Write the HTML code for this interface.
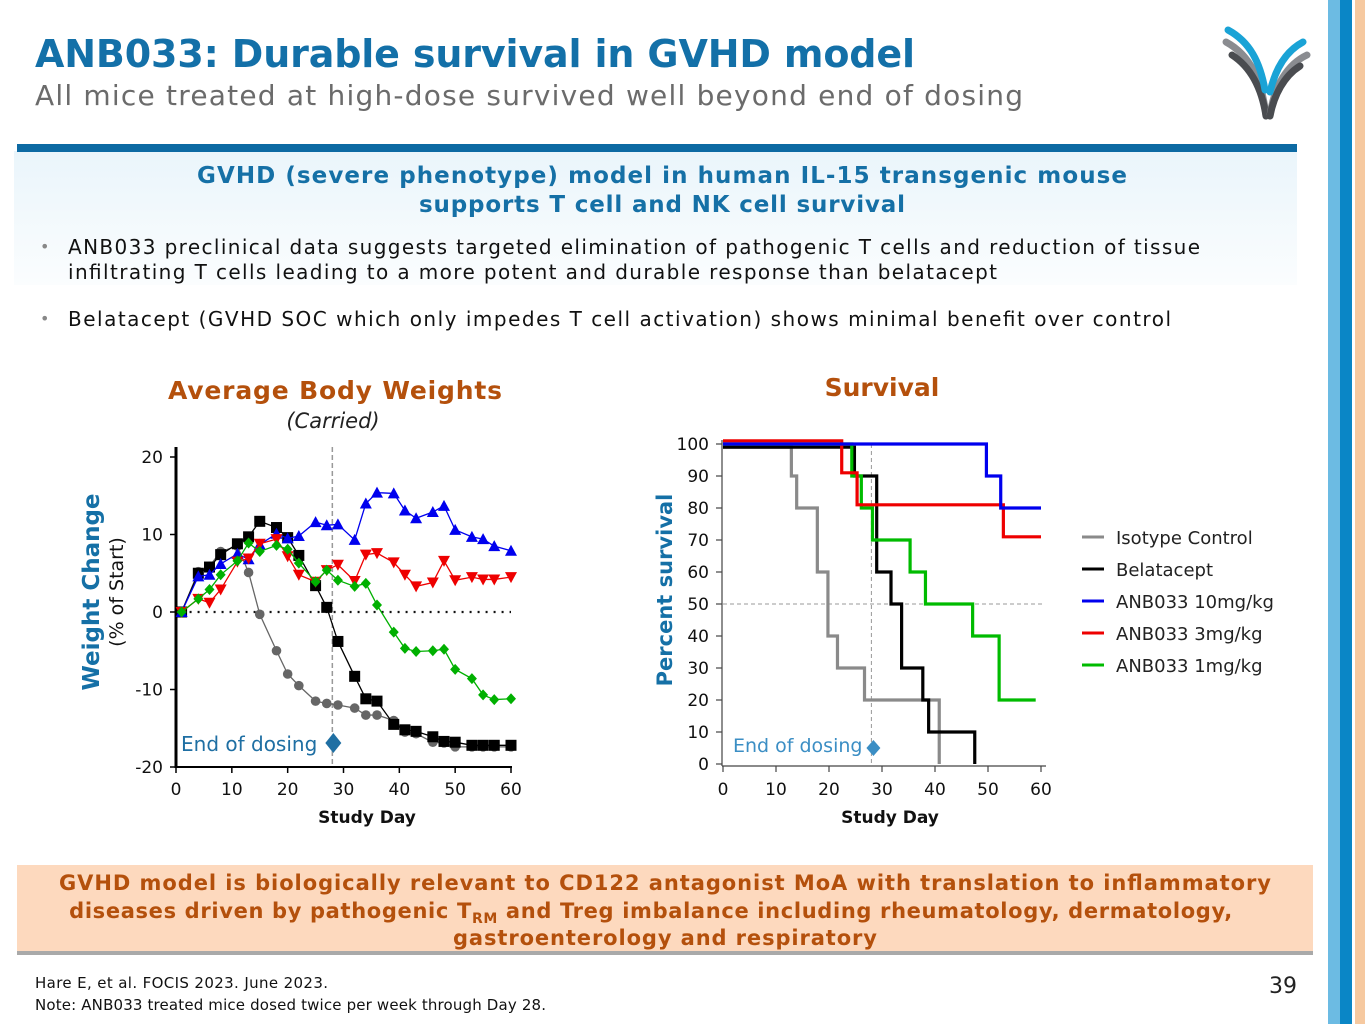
<!DOCTYPE html>
<html><head><meta charset="utf-8"><style>
html,body{margin:0;padding:0;background:#fff;}
svg{display:block;font-family:"DejaVu Sans","Liberation Sans",sans-serif;}
</style></head><body>
<svg width="1365" height="1024" viewBox="0 0 1365 1024" xmlns="http://www.w3.org/2000/svg">
<defs>
<linearGradient id="boxg" x1="0" y1="0" x2="0" y2="1"><stop offset="0" stop-color="#eaf5fb"/><stop offset="1" stop-color="#fbfdfe"/></linearGradient>
</defs>
<rect x="1328" y="0" width="12" height="1024" fill="#6cbbe3"/>
<rect x="1340" y="0" width="12" height="1024" fill="#0a86c6"/>
<rect x="1355" y="0" width="10" height="1024" fill="#f6c9a0"/>
<g fill="none" stroke-linecap="round">
<path d="M1226,42 C1250,55 1262,80 1266,116" stroke="#8a8c90" stroke-width="7"/>
<path d="M1232,55 C1252,68 1262,90 1266,116" stroke="#4a4c50" stroke-width="7"/>
<path d="M1228,30 C1250,42 1260,62 1265,90" stroke="#1aa3d6" stroke-width="7"/>
<path d="M1307,55 C1288,64 1274,85 1270,116" stroke="#8a8c90" stroke-width="7"/>
<path d="M1300,66 C1284,76 1274,95 1270,116" stroke="#4a4c50" stroke-width="7"/>
<path d="M1303,42 C1288,50 1276,66 1270,92" stroke="#1aa3d6" stroke-width="7"/>
</g>
<text x="35" y="67" font-size="38" font-weight="bold" fill="#1370a8" textLength="880">ANB033: Durable survival in GVHD model</text>
<text x="35" y="105" font-size="28" fill="#6b6b6b" textLength="988">All mice treated at high-dose survived well beyond end of dosing</text>
<rect x="14" y="151" width="1283" height="134" fill="url(#boxg)"/>
<rect x="17" y="144" width="1280" height="8" fill="#0d6aa3"/>
<text x="662" y="183" font-size="23" font-weight="bold" fill="#1570a6" text-anchor="middle" textLength="930">GVHD (severe phenotype) model in human IL-15 transgenic mouse</text>
<text x="662" y="212" font-size="23" font-weight="bold" fill="#1570a6" text-anchor="middle" textLength="486">supports T cell and NK cell survival</text>
<g font-size="20" fill="#111">
<text x="40" y="252" font-size="16" fill="#888">•</text>
<text x="68" y="254" textLength="1132">ANB033 preclinical data suggests targeted elimination of pathogenic T cells and reduction of tissue</text>
<text x="68" y="279" textLength="929">infiltrating T cells leading to a more potent and durable response than belatacept</text>
<text x="40" y="324" font-size="16" fill="#888">•</text>
<text x="68" y="326" textLength="1103">Belatacept (GVHD SOC which only impedes T cell activation) shows minimal benefit over control</text>
</g>
<text x="335" y="399" font-size="25" font-weight="bold" fill="#b4500c" text-anchor="middle" textLength="334">Average Body Weights</text>
<text x="333" y="428" font-size="21" font-style="italic" fill="#222" text-anchor="middle">(Carried)</text>
<text x="882" y="396" font-size="25" font-weight="bold" fill="#b4500c" text-anchor="middle">Survival</text>
<g id="left"></g>
<g id="right"></g>
<g font-size="18" fill="#222">
<g><line x1="1082" y1="537" x2="1104" y2="537" stroke="#8a8a8a" stroke-width="3"/><text x="1116" y="544">Isotype Control</text></g>
<g><line x1="1082" y1="569" x2="1104" y2="569" stroke="#000" stroke-width="3"/><text x="1116" y="576">Belatacept</text></g>
<g><line x1="1082" y1="601" x2="1104" y2="601" stroke="#0000ee" stroke-width="3"/><text x="1116" y="608">ANB033 10mg/kg</text></g>
<g><line x1="1082" y1="633" x2="1104" y2="633" stroke="#ee0000" stroke-width="3"/><text x="1116" y="640">ANB033 3mg/kg</text></g>
<g><line x1="1082" y1="665" x2="1104" y2="665" stroke="#00bb00" stroke-width="3"/><text x="1116" y="672">ANB033 1mg/kg</text></g>
</g>
<rect x="17" y="865" width="1296" height="87" fill="#fdd9be"/>
<rect x="17" y="951" width="1296" height="4" fill="#a9a9a9"/>
<g font-size="21" font-weight="bold" fill="#b4500c" text-anchor="middle">
<text x="665" y="890" textLength="1212">GVHD model is biologically relevant to CD122 antagonist MoA with translation to inflammatory</text>
<text x="651" y="918" letter-spacing="0.65">diseases driven by pathogenic T<tspan font-size="14" dy="5">RM</tspan><tspan dy="-5"> and Treg imbalance including rheumatology, dermatology,</tspan></text>
<text x="665" y="945" textLength="424">gastroenterology and respiratory</text>
</g>
<text x="35" y="988" font-size="15" fill="#111" textLength="293">Hare E, et al. FOCIS 2023. June 2023.</text>
<text x="35" y="1010" font-size="15" fill="#111" textLength="511">Note: ANB033 treated mice dosed twice per week through Day 28.</text>
<text x="1297" y="993" font-size="22" fill="#222" text-anchor="end">39</text>
</svg>
<script>
const bwDays = [1,4,6,8,11,13,15,18,20,22,25,27,29,32,34,36,39,41,43,46,48,50,53,55,57,60];
const bwIsotype = [0,5.2,5.9,7.8,8.5,5.1,-0.3,-5,-8,-9.5,-11.5,-11.8,-12,-12.4,-13.3,-13.3,-14,-15.5,-15.7,-16.8,-16.9,-17.4,-17.4,-17.4,-17.4,-17.4];
const bwBelatacept = [0,5,5.8,7.4,8.8,9.7,11.7,10.9,9.6,7.3,3.4,0.6,-3.8,-8.3,-11.2,-11.5,-14.5,-15.2,-15.4,-16.1,-16.7,-16.8,-17.2,-17.2,-17.2,-17.2];
const bw10mg = [0,4.6,4.8,6.2,7.5,6.8,8.7,10.1,9.5,9.8,11.6,11.2,11.3,9.3,14,15.4,15.3,13.1,12.1,12.9,13.7,10.6,9.7,9.4,8.5,7.9];
const bw3mg = [0,1.7,1.2,2.9,6.5,6.9,8.8,9.4,7.2,4.8,3.9,5.4,6.1,4,7.4,7.6,6.4,4.8,3.3,3.8,6.6,4.1,4.5,4.2,4.2,4.5];
const bw1mg = [0,1.7,2.9,4.8,6.6,8.9,7.8,8.6,8.1,6.3,3.9,5.4,4.1,3.3,3.7,0.9,-2.6,-4.7,-5.1,-5,-4.8,-7.4,-8.6,-10.7,-11.3,-11.2];
const bwXTicks = [0,10,20,30,40,50,60];
const bwYTicks = [20,10,0,-10,-20];
const endOfDosingDay = 28;
const svTicksX = [0,10,20,30,40,50,60];
const svTicksY = [0,10,20,30,40,50,60,70,80,90,100];
const isoT = [0,12.9,13.9,17.8,19.8,21.6,26.7,40.8];
const isoS = [99,90,80,60,40,30,20,0];
const belT = [0,24.8,29,31.7,33.7,37.7,38.8,47.5];
const belS = [99,90,60,50,30,20,10,0];
const m10T = [0,49.7,52.4];
const m10S = [100,90,80];
const m3T = [0,22.4,25.3,52.9];
const m3S = [101,91,81,71];
const m1T = [0,24.3,26.1,28.2,35.3,38.2,47.1,52.1];
const m1S = [100,90,80,70,60,50,40,20];
const svEnd = {iso:40.8, bel:47.5, m10:60, m3:60, m1:59};

const NS = "http://www.w3.org/2000/svg";
function mk(tag, attrs, parent){const e=document.createElementNS(NS,tag);for(const k in attrs)e.setAttribute(k,attrs[k]);parent.appendChild(e);return e;}

const L = document.getElementById('left');
const lx = d => 176 + (d-0)*(511-176)/60;
const ly = v => 612 - v*7.75;
mk('line',{x1:lx(endOfDosingDay),y1:447,x2:lx(endOfDosingDay),y2:767,stroke:'#999','stroke-dasharray':'5,3','stroke-width':1.5},L);
mk('line',{x1:lx(1),y1:ly(0),x2:lx(60),y2:ly(0),stroke:'#111','stroke-dasharray':'2,6','stroke-width':2.2},L);
mk('line',{x1:176,y1:447,x2:176,y2:768,stroke:'#000','stroke-width':3},L);
mk('line',{x1:175,y1:767,x2:512,y2:767,stroke:'#000','stroke-width':2},L);
bwYTicks.forEach(v=>{
  const t=mk('line',{x1:170,y1:ly(v),x2:176,y2:ly(v),stroke:'#000','stroke-width':1.5},L);
  
  
  const tx=mk('text',{x:163,y:ly(v)+6,'font-size':17,'text-anchor':'end',fill:'#111'},L);
  tx.textContent=v;
  
  
});
bwXTicks.forEach(v=>{
  mk('line',{x1:lx(v),y1:767,x2:lx(v),y2:773,stroke:'#000','stroke-width':1.5},L);
  const tx=mk('text',{x:lx(v),y:795,'font-size':17,'text-anchor':'middle',fill:'#111'},L);
  tx.textContent=v;
  
  
});
let t1=mk('text',{x:367,y:823,'font-size':17,'font-weight':'bold','text-anchor':'middle',fill:'#111'},L);
t1.textContent='Study Day';


let t2=mk('text',{x:0,y:0,'font-size':23,'font-weight':'bold','text-anchor':'middle',fill:'#1570a6',transform:'translate(99,592) rotate(-90)'},L);
t2.textContent='Weight Change';


let t3=mk('text',{x:0,y:0,'font-size':19,'text-anchor':'middle',fill:'#111',transform:'translate(123,592) rotate(-90)'},L);
t3.textContent='(% of Start)';



function marker(kind,x,y,col,p){
  let e;
  if(kind==='circle') e=mk('circle',{cx:x,cy:y,r:4.8,fill:col},p);
  else if(kind==='square') e=mk('rect',{x:x-5.5,y:y-5.5,width:11,height:11,fill:col},p);
  else if(kind==='up') e=mk('polygon',{points:`${x},${y-6} ${x-6},${y+5} ${x+6},${y+5}`,fill:col},p);
  else if(kind==='down') e=mk('polygon',{points:`${x},${y+6} ${x-6},${y-5} ${x+6},${y-5}`,fill:col},p);
  else e=mk('polygon',{points:`${x},${y-5.5} ${x+5},${y} ${x},${y+5.5} ${x-5},${y}`,fill:col},p);
  return e;
}
const bwSeries=[['isotype',bwIsotype,'#666','circle'],['belatacept',bwBelatacept,'#000','square'],['10mg',bw10mg,'#0000ee','up'],['3mg',bw3mg,'#ee0000','down'],['1mg',bw1mg,'#00b000','diamond']];
bwSeries.forEach(([nm,vals,col,kind])=>{
  const g=mk('g',{},L);
  
  
  const pts=vals.map((v,i)=>lx(bwDays[i])+','+ly(v)).join(' ');
  mk('polyline',{points:pts,fill:'none',stroke:col,'stroke-width':1.3},g);
  vals.forEach((v,i)=>{
    const m=marker(kind,lx(bwDays[i]),ly(v),col,g);
    
    
  });
});
let e1=mk('text',{x:181,y:751,'font-size':20,fill:'#1f6fa3'},L);
e1.textContent='End of dosing';


mk('polygon',{points:`${lx(endOfDosingDay)+1},733 ${lx(endOfDosingDay)+9},743 ${lx(endOfDosingDay)+1},753 ${lx(endOfDosingDay)-7},743`,fill:'#1f6fa3'},L);

const R=document.getElementById('right');
const rx=d=>723+d*(1041-723)/60;
const ry=v=>764-v*3.2;
mk('line',{x1:rx(endOfDosingDay),y1:444,x2:rx(endOfDosingDay),y2:764,stroke:'#999','stroke-dasharray':'4,3','stroke-width':1},R);
mk('line',{x1:723,y1:ry(50),x2:1045,y2:ry(50),stroke:'#999','stroke-dasharray':'4,3','stroke-width':1},R);
mk('line',{x1:722,y1:440,x2:722,y2:766,stroke:'#444','stroke-width':1.2},R);
mk('line',{x1:722,y1:766,x2:1046,y2:766,stroke:'#444','stroke-width':1.2},R);
svTicksY.forEach(v=>{
  mk('line',{x1:716,y1:ry(v),x2:722,y2:ry(v),stroke:'#444','stroke-width':1.2},R);
  const tx=mk('text',{x:709,y:ry(v)+6,'font-size':17,'text-anchor':'end',fill:'#111'},R);
  tx.textContent=v;
  
  
});
svTicksX.forEach(v=>{
  mk('line',{x1:rx(v),y1:766,x2:rx(v),y2:772,stroke:'#444','stroke-width':1.2},R);
  const tx=mk('text',{x:rx(v),y:795,'font-size':17,'text-anchor':'middle',fill:'#111'},R);
  tx.textContent=v;
  
  
});
let r1=mk('text',{x:890,y:823,'font-size':17,'font-weight':'bold','text-anchor':'middle',fill:'#111'},R);
r1.textContent='Study Day';


let r2=mk('text',{x:0,y:0,'font-size':21,'font-weight':'bold','text-anchor':'middle',fill:'#1570a6',transform:'translate(672,590) rotate(-90)'},R);
r2.textContent='Percent survival';


const svSeries=[['isotype',isoT,isoS,svEnd.iso,'#8a8a8a'],['belatacept',belT,belS,svEnd.bel,'#000'],['1mg',m1T,m1S,svEnd.m1,'#00bb00'],['3mg',m3T,m3S,svEnd.m3,'#ee0000'],['10mg',m10T,m10S,svEnd.m10,'#0000ee']];
svSeries.forEach(([nm,T,S,end,col])=>{
  let d='M'+rx(T[0])+','+ry(S[0]);
  for(let i=1;i<T.length;i++){d+=' H'+rx(T[i])+' V'+ry(S[i]);}
  d+=' H'+rx(end);
  const p=mk('path',{d:d,fill:'none',stroke:col,'stroke-width':3.2},R);
  
  
});
let r3=mk('text',{x:733,y:752,'font-size':19,fill:'#3b8ec4'},R);
r3.textContent='End of dosing';


mk('polygon',{points:`${rx(endOfDosingDay)+2},740 ${rx(endOfDosingDay)+9},748 ${rx(endOfDosingDay)+2},756 ${rx(endOfDosingDay)-5},748`,fill:'#3b8ec4'},R);
</script>
</body></html>
